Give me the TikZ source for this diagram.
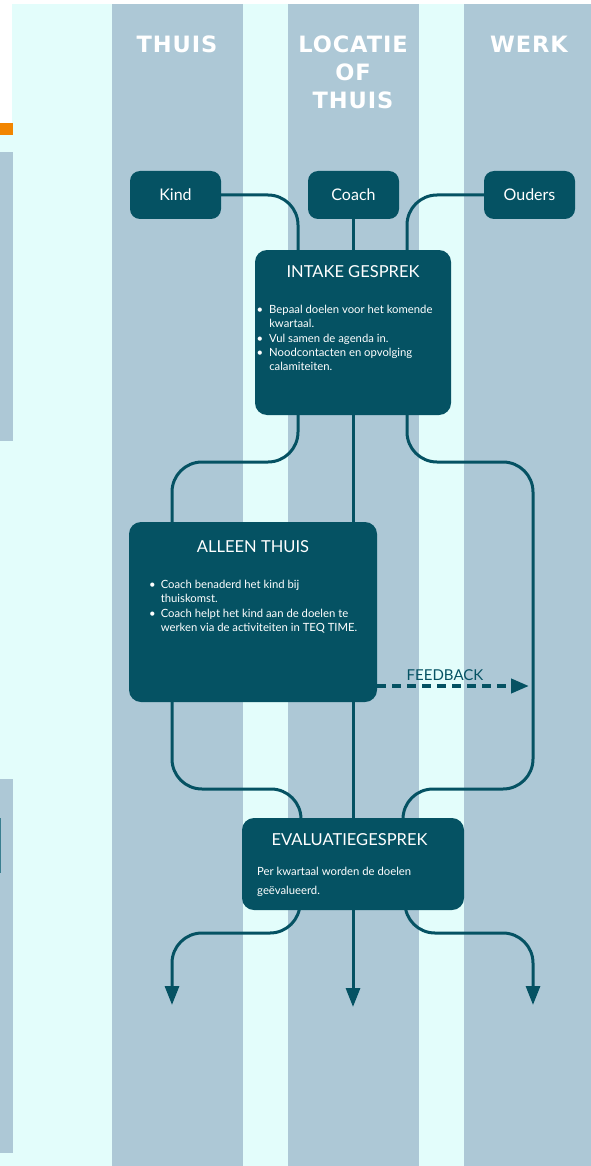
\documentclass[tikz,border=0pt]{standalone}
\usepackage{fontspec}
\setmainfont{Lato}
\newfontfamily\headfont[LetterSpace=4]{DejaVu Sans}
\usetikzlibrary{arrows.meta}

\definecolor{boxteal}{HTML}{055263}
\definecolor{lane}{HTML}{ADC8D6}
\definecolor{paleaqua}{HTML}{E3FDFB}
\definecolor{accent}{HTML}{F28500}
\definecolor{edgeteal}{HTML}{3A7F90}

\pgfdeclarelayer{bg}
\pgfdeclarelayer{lines}
\pgfsetlayers{bg,lines,main}

\tikzset{
  smallbox/.style={fill=boxteal, rounded corners=10pt, text=white, inner sep=0pt,
    minimum width=91pt, minimum height=48pt, font=\fontsize{16}{19}\selectfont},
  bigbox/.style={fill=boxteal, rounded corners=12pt, inner sep=0pt},
  boxtitle/.style={text=white, inner sep=0pt, font=\fontsize{16.5}{20}\selectfont},
  boxbody/.style={text=white, inner sep=0pt, anchor=north west, align=left},
  lanehead/.style={text=white, inner sep=0pt, align=center,
    font=\headfont\bfseries\fontsize{22.5}{28}\selectfont},
  conn/.style={draw=boxteal, line width=3pt, rounded corners=30pt},
  tip/.style={-{Triangle[width=14pt,length=19pt]}},
  fbline/.style={draw=boxteal, line width=4pt, dash pattern=on 9pt off 6pt,
    -{Triangle[width=14pt,length=18pt]}},
  fblabel/.style={text=boxteal, inner sep=0pt, font=\fontsize{15}{18}\selectfont}
}

\begin{document}
\begin{tikzpicture}[x=1pt, y=-1pt]
\useasboundingbox (0,0) rectangle (591,1166);

% background, swimlanes and the page edge on the left
\begin{pgfonlayer}{bg}
  \fill[white] (0,0) rectangle (591,1166);
  \fill[paleaqua] (12,4) rectangle (591,1166);
  \fill[paleaqua] (0,135) rectangle (13,1166);
  \fill[accent] (0,123) rectangle (13,135);
  \fill[lane] (0,152) rectangle (13,441);
  \fill[lane] (0,779) rectangle (13,1153);
  \fill[edgeteal] (0,818) rectangle (1.2,873);
  \fill[lane] (112,4) rectangle (243,1166);
  \fill[lane] (288,4) rectangle (419,1166);
  \fill[lane] (464,4) rectangle (591,1166);
\end{pgfonlayer}

% lane headings
\node[lanehead] (hthuis) at (177,44) {THUIS};
\node[lanehead] (hlocatie) at (353,72) {LOCATIE\\OF\\THUIS};
\node[lanehead] (hwerk) at (529,44) {WERK};

% participants
\node[smallbox] (kind) at (175.5,195) {Kind};
\node[smallbox] (coach) at (353.5,195) {Coach};
\node[smallbox] (ouders) at (529.5,195) {Ouders};

% intake
\node[bigbox, minimum width=196pt, minimum height=165pt] (intake) at (353,332.5) {};
\node[boxtitle] (intaketitle) at (353,272) {INTAKE GESPREK};
\node[boxbody] (intakebody) at (256.5,303.5)
  {\fontsize{11.3}{14.2}\selectfont
   \begin{tabular}{@{}l@{\hspace{6pt}}l@{}}
   • & Bepaal doelen voor het komende\\
     & kwartaal.\\
   • & Vul samen de agenda in.\\
   • & Noodcontacten en opvolging\\
     & calamiteiten.
   \end{tabular}};

% alone at home
\node[bigbox, minimum width=248pt, minimum height=180pt] (alleen) at (253,612) {};
\node[boxtitle] (alleentitle) at (253,547) {ALLEEN THUIS};
\node[boxbody] (alleenbody) at (149,578)
  {\fontsize{11.3}{14.5}\selectfont
   \begin{tabular}{@{}l@{\hspace{5pt}}l@{}}
   • & Coach benaderd het kind bij\\
     & thuiskomst.\\
   • & Coach helpt het kind aan de doelen te\\
     & werken via de activiteiten in TEQ TIME.
   \end{tabular}};

% evaluation
\node[bigbox, minimum width=222pt, minimum height=92pt] (evaluatie) at (353,864) {};
\node[boxtitle] (evaltitle) at (349.5,840) {EVALUATIEGESPREK};
\node[boxbody, font=\fontsize{11.3}{19}\selectfont] (evalbody) at (257,867)
  {Per kwartaal worden de doelen\\ geëvalueerd.};

% bends of the flow lines
\coordinate (splitL) at (172,462);
\coordinate (splitR) at (533,462);
\coordinate (joinL) at (172,789);
\coordinate (joinR) at (533,789);
\coordinate (fanL) at (172,933);
\coordinate (fanR) at (533,933);
\coordinate (tipL) at (172,1005);
\coordinate (tipM) at (353,1007);
\coordinate (tipR) at (533,1005);
\coordinate (fbtip) at (529,686);

\begin{pgfonlayer}{lines}
  \draw[conn] (kind.east) -| ([xshift=-55pt]intake.north);
  \draw[conn] (coach.south -| intake.north) -- (intake.north);
  \draw[conn] (ouders.west) -| ([xshift=54pt]intake.north);

  \draw[conn] ([xshift=-55pt]intake.south) |- (splitL) -- (alleen.north -| splitL);
  \draw[conn] (intake.south) -- (intake.south |- alleen.north);
  \draw[conn] ([xshift=54pt]intake.south) |- (splitR) -- (joinR) -| ([xshift=50pt]evaluatie.center);

  \draw[conn] (alleen.south -| joinL) -- (joinL) -| ([xshift=-52pt]evaluatie.center);
  \draw[conn] (alleen.south -| evaluatie.north) -- (evaluatie.north);

  \draw[conn, tip] ([xshift=-53pt]evaluatie.center) |- (fanL) -- (tipL);
  \draw[conn, tip] (evaluatie.south) -- (tipM);
  \draw[conn, tip] ([xshift=52pt]evaluatie.center) |- (fanR) -- (tipR);

  \draw[fbline] (alleen.east |- fbtip) -- (fbtip);
\end{pgfonlayer}
\node[fblabel] (fbtext) at (445,675) {FEEDBACK};

\end{tikzpicture}
\end{document}
